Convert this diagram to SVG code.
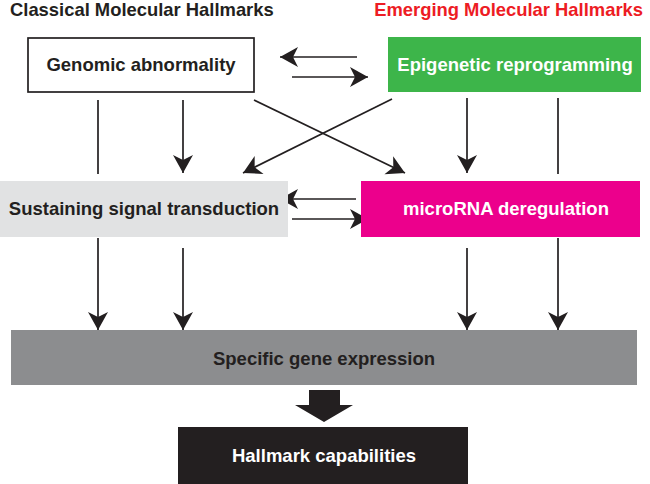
<svg xmlns="http://www.w3.org/2000/svg" width="650" height="484" viewBox="0 0 650 484">
<defs>
<marker id="ah" markerUnits="userSpaceOnUse" markerWidth="20" markerHeight="22" refX="18" refY="10" orient="auto" overflow="visible">
<path d="M18,10 L0,0 L5,10 L0,20 Z" fill="#231f20"/>
</marker>
<style>
text{font-family:"Liberation Sans",Arial,Helvetica,sans-serif;font-weight:bold;text-anchor:middle}
.lbl{font-size:18.5px}
.dark{fill:#231f20}
.white{fill:#ffffff}
.ln{stroke:#231f20;stroke-width:1.7;fill:none}
.arr{marker-end:url(#ah)}
</style>
</defs>
<rect width="650" height="484" fill="#ffffff"/>
<text x="10" y="16" style="text-anchor:start;font-size:18.4px" class="dark">Classical Molecular Hallmarks</text>
<text x="643" y="16" style="text-anchor:end;font-size:18.4px;fill:#ed1c24">Emerging Molecular Hallmarks</text>

<g id="connectors">
<line class="ln arr" x1="357" y1="57" x2="280" y2="57"/>
<line class="ln arr" x1="292" y1="77" x2="368" y2="77"/>
<line class="ln arr" x1="356" y1="199" x2="280" y2="199"/>
<line class="ln arr" x1="292" y1="219" x2="368" y2="219"/>
<line class="ln" x1="98" y1="100" x2="98" y2="174"/>
<line class="ln arr" x1="183" y1="100" x2="183" y2="173"/>
<line class="ln arr" x1="467" y1="98" x2="467" y2="173"/>
<line class="ln" x1="558" y1="98" x2="558" y2="174"/>
<line class="ln arr" x1="254" y1="100" x2="405" y2="173"/>
<line class="ln arr" x1="392" y1="99" x2="243" y2="173"/>
<line class="ln arr" x1="98" y1="238" x2="98" y2="330"/>
<line class="ln arr" x1="183" y1="248" x2="183" y2="330"/>
<line class="ln arr" x1="467" y1="248" x2="467" y2="330"/>
<line class="ln arr" x1="558" y1="238" x2="558" y2="330"/>
<path d="M309,390 H340 V405 H353 L324,422 L295,405 H309 Z" fill="#231f20"/>
</g>

<g id="genomic">
<rect x="28" y="38" width="226" height="54" fill="#ffffff" stroke="#231f20" stroke-width="1.7"/>
<text x="141" y="71" class="lbl dark">Genomic abnormality</text>
</g>
<g id="epigenetic">
<rect x="388" y="37" width="253" height="55" fill="#3db54a"/>
<text x="515" y="71" class="lbl white">Epigenetic reprogramming</text>
</g>
<g id="sustaining">
<rect x="0" y="181" width="288" height="56" fill="#e1e2e3"/>
<text x="144" y="215" class="lbl dark">Sustaining signal transduction</text>
</g>
<g id="microrna">
<rect x="361" y="181" width="279" height="56" fill="#ec008c"/>
<text x="506" y="215" class="lbl white">microRNA deregulation</text>
</g>
<g id="specific">
<rect x="11" y="330" width="626" height="55" fill="#8c8d8f"/>
<text x="324" y="365" class="lbl dark">Specific gene expression</text>
</g>
<g id="hallmark">
<rect x="178" y="427" width="290" height="57" fill="#231f20"/>
<text x="324" y="462" class="lbl white">Hallmark capabilities</text>
</g>
</svg>
